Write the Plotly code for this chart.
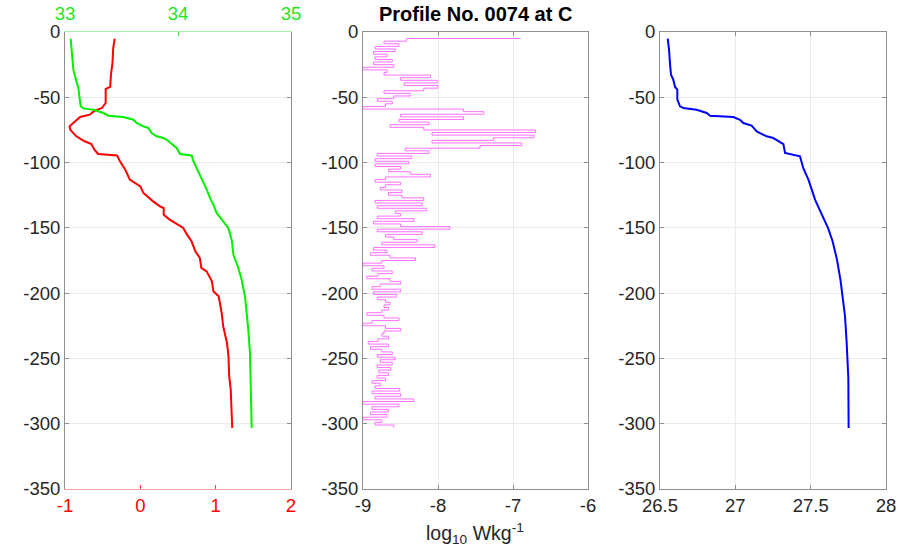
import plotly.graph_objects as go

# ---------------- data ----------------
# Temperature (bottom red axis), depth in m (positive down)
temp_depth = [5.1, 12.3, 23.8, 32.7, 42.0, 43.5, 54.4, 58.2, 60.8, 63.3, 65.1, 68.4, 72.2, 74.8,
              79.9, 83.7, 85.8, 90.1, 93.4, 94.5, 99.0, 105.4, 108.0, 113.1, 118.2, 123.3, 129.7,
              133.5, 134.8, 139.9, 143.7, 150.1, 155.2, 160.3, 168.0, 173.1, 180.7, 183.3, 190.9,
              198.6, 202.4, 215.2, 225.4, 238.2, 248.4, 263.7, 273.9, 289.2, 303.2]
temp = [-0.34, -0.36, -0.37, -0.39, -0.40, -0.46, -0.46, -0.51, -0.62, -0.67, -0.80, -0.87, -0.94, -0.93,
        -0.85, -0.74, -0.65, -0.61, -0.56, -0.31, -0.27, -0.20, -0.18, -0.14, -0.00, 0.04, 0.17,
        0.26, 0.31, 0.31, 0.39, 0.57, 0.62, 0.68, 0.73, 0.79, 0.81, 0.88, 0.95,
        0.97, 1.04, 1.08, 1.10, 1.15, 1.17, 1.18, 1.20, 1.21, 1.22]

# Salinity (top green axis)
sal_depth = [5.1, 16.1, 28.9, 36.5, 42.9, 49.3, 56.9, 58.5, 59.5, 62.0, 64.1, 65.1, 67.2, 69.7,
             72.3, 73.5, 77.4, 79.9, 81.2, 82.5, 85.8, 88.8, 93.4, 94.5, 99.0, 104.2, 110.5, 115.6,
             120.7, 128.4, 132.2, 138.6, 145.0, 150.1, 159.0, 170.5, 180.7, 189.7, 202.4, 215.2,
             228.0, 245.8, 266.2, 303.2]
sal = [33.050, 33.059, 33.074, 33.097, 33.118, 33.127, 33.139, 33.162, 33.251, 33.339, 33.383,
       33.516, 33.605, 33.634, 33.693, 33.737, 33.767, 33.811, 33.870, 33.900, 33.944, 33.988,
       34.018, 34.121, 34.136, 34.165, 34.195, 34.224, 34.254, 34.290, 34.313, 34.342, 34.401,
       34.445, 34.475, 34.490, 34.534, 34.563, 34.593, 34.608, 34.622, 34.637, 34.643, 34.652]

# Dissipation rate, log10 W/kg
eps_depth = [5, 7, 9, 11, 13, 15, 17, 19, 21, 23,
             25, 27, 29, 31, 33, 35, 37, 39, 41, 43,
             45, 47, 49, 51, 53, 55, 57, 59, 61, 63,
             65, 67, 69, 71, 73, 75, 77, 79, 81, 83,
             85, 87, 89, 91, 93, 95, 97, 99, 101, 103,
             105, 107, 109, 111, 113, 115, 117, 119, 121, 123,
             125, 127, 129, 131, 133, 135, 137, 139, 141, 143,
             145, 147, 149, 151, 153, 155, 157, 159, 161, 163,
             165, 167, 169, 171, 173, 175, 177, 179, 181, 183,
             185, 187, 189, 191, 193, 195, 197, 199, 201, 203,
             205, 207, 209, 211, 213, 215, 217, 219, 221, 223,
             225, 227, 229, 231, 233, 235, 237, 239, 241, 243,
             245, 247, 249, 251, 253, 255, 257, 259, 261, 263,
             265, 267, 269, 271, 273, 275, 277, 279, 281, 283,
             285, 287, 289, 291, 293, 295, 297, 299, 301, 303]
eps = [-6.90, -8.42, -8.72, -8.52, -8.84, -8.57, -8.86, -8.68, -8.84, -8.61,
       -8.86, -8.59, -9.00, -8.68, -8.72, -8.10, -8.50, -8.01, -8.45, -8.00,
       -8.19, -8.72, -8.37, -8.59, -8.81, -8.61, -8.70, -9.00, -7.66, -7.39,
       -8.50, -7.66, -8.52, -8.12, -8.64, -8.19, -6.70, -8.08, -6.72, -7.26,
       -8.08, -6.88, -7.44, -8.44, -8.12, -8.81, -8.35, -8.84, -8.39, -8.84,
       -8.50, -8.66, -8.37, -8.10, -8.70, -8.84, -8.50, -8.70, -8.77, -8.48,
       -8.66, -8.48, -8.19, -8.84, -8.21, -8.81, -8.15, -8.57, -8.50, -8.81,
       -8.32, -8.86, -8.50, -7.84, -8.81, -8.21, -8.70, -8.59, -8.28, -8.75,
       -8.04, -8.86, -8.68, -8.90, -8.64, -8.30, -8.75, -9.00, -8.72, -8.88,
       -8.61, -8.80, -8.95, -8.64, -8.50, -8.77, -8.88, -8.50, -8.86, -8.55,
       -8.81, -8.70, -8.64, -8.72, -8.66, -8.75, -8.95, -8.72, -8.52, -8.88,
       -9.00, -8.70, -8.50, -8.72, -8.75, -8.66, -8.80, -8.93, -8.66, -8.90,
       -8.75, -8.61, -8.81, -8.57, -8.77, -8.61, -8.81, -8.63, -8.79, -8.66,
       -8.81, -8.70, -8.88, -8.77, -8.84, -8.51, -8.88, -8.50, -8.84, -8.32,
       -9.00, -8.52, -8.88, -8.66, -8.90, -8.68, -9.00, -8.75, -8.84, -8.59]

# Potential density anomaly
rho_depth = [5.1, 13.5, 23.8, 32.7, 36.5, 42.1, 44.2, 51.8, 56.9, 58.2, 59.5, 62.0, 64.1, 65.1,
             67.2, 69.7, 71.7, 76.1, 77.4, 79.9, 81.2, 83.7, 85.8, 92.7, 94.5, 95.2, 104.2, 109.3,
             113.1, 118.2, 128.4, 140.0, 150.0, 160.0, 174.0, 190.0, 205.0, 217.7, 238.2, 250.9,
             265.0, 303.2]
rho = [26.551, 26.560, 26.566, 26.573, 26.588, 26.600, 26.615, 26.615, 26.633, 26.655, 26.743,
       26.810, 26.832, 26.987, 27.031, 27.053, 27.108, 27.142, 27.164, 27.208, 27.252, 27.285,
       27.319, 27.330, 27.418, 27.429, 27.451, 27.473, 27.485, 27.500, 27.529, 27.575, 27.615,
       27.645, 27.674, 27.698, 27.712, 27.728, 27.739, 27.743, 27.750, 27.752]

depth_ticks = [0, -50, -100, -150, -200, -250, -300, -350]
depth_labels = ["0", "-50", "-100", "-150", "-200", "-250", "-300", "-350"]
temp_ticks = [-1, 0, 1, 2]
temp_labels = ["-1", "0", "1", "2"]
sal_ticks = [33, 34, 35]
eps_ticks = [-9, -8, -7, -6]
eps_labels = ["-9", "-8", "-7", "-6"]
rho_ticks = [26.5, 27, 27.5, 28]
rho_labels = ["26.5", "27", "27.5", "28"]
title_text = "<b>Profile No. 0074 at C</b>"
eps_label = "log<sub>10</sub> Wkg<sup>-1</sup>"

# ---------------- figure ----------------
W, H = 903, 554
FONT = "Liberation Sans, Arial, Helvetica, sans-serif"
GRAY = "#8f8f8f"
GRID = "#ebebeb"
TXT = "#262626"
TICK = 18.5


def px_x(x):
    return x / W


def px_y(y):
    return (H - y) / H


def neg(v):
    return [-d for d in v]


fig = go.Figure()
fig.add_trace(go.Scatter(x=temp, y=neg(temp_depth), xaxis="x", yaxis="y", mode="lines",
                         line=dict(color="#ff0000", width=2)))
fig.add_trace(go.Scatter(x=sal, y=neg(sal_depth), xaxis="x4", yaxis="y", mode="lines",
                         line=dict(color="#00f000", width=2)))
fig.add_trace(go.Scatter(x=eps, y=neg(eps_depth), xaxis="x2", yaxis="y2", mode="lines",
                         line=dict(color="#ff70ff", width=1, shape="hv")))
fig.add_trace(go.Scatter(x=rho, y=neg(rho_depth), xaxis="x3", yaxis="y3", mode="lines",
                         line=dict(color="#0000ff", width=2)))

ydom = [px_y(489), px_y(32)]
doms = [[px_x(65), px_x(291)], [px_x(363), px_x(588)], [px_x(660), px_x(886)]]


def yaxis(i):
    return dict(domain=ydom, range=[-350, 0], tickvals=depth_ticks, ticktext=depth_labels,
                ticks="inside", ticklen=4, tickcolor=GRAY, showline=True, linecolor=GRAY,
                linewidth=1, mirror="ticks", showgrid=True, gridcolor=GRID, zeroline=False,
                automargin=False, tickfont=dict(family=FONT, size=TICK, color=TXT),
                anchor=f"x{i}" if i > 1 else "x")


def xaxis(dom, rng, ticks, labels, grid, anchor):
    return dict(domain=dom, range=rng, tickvals=ticks, ticktext=labels, ticks="inside",
                ticklen=4, tickcolor=GRAY, showline=True, linecolor=GRAY, linewidth=1,
                mirror="ticks", showgrid=grid, gridcolor=GRID, zeroline=False, automargin=False,
                tickfont=dict(family=FONT, size=TICK, color=TXT), anchor=anchor)


fig.update_layout(
    width=W, height=H, margin=dict(l=0, r=0, t=0, b=0, autoexpand=False),
    paper_bgcolor="white", plot_bgcolor="white", showlegend=False,
    font=dict(family=FONT, color=TXT),
    yaxis=yaxis(1), yaxis2=yaxis(2), yaxis3=yaxis(3),
    xaxis=dict(domain=doms[0], range=[-1, 2], tickvals=temp_ticks, ticktext=temp_labels,
               ticks="inside", ticklen=4, tickcolor="#ff4040", showline=True,
               linecolor="#f7a6a6", linewidth=1, showgrid=False, zeroline=False, automargin=False,
               tickfont=dict(family=FONT, size=TICK, color="#ff0000"), anchor="y"),
    xaxis4=dict(overlaying="x", side="top", range=[33, 35], tickvals=sal_ticks, ticks="inside",
                ticklen=4, tickcolor="#33dd33", showline=True, linecolor="#a6f2a6", linewidth=1,
                showgrid=False, zeroline=False, automargin=False, ticklabelstandoff=4,
                tickfont=dict(family=FONT, size=TICK, color="#22e622"), anchor="y"),
    xaxis2=xaxis(doms[1], [-9, -6], eps_ticks, eps_labels, True, "y2"),
    xaxis3=xaxis(doms[2], [26.5, 28], rho_ticks, rho_labels, True, "y3"),
)

fig.add_annotation(text=title_text, xref="paper", yref="paper", x=px_x((363 + 588) / 2),
                   y=px_y(14), showarrow=False, xanchor="center", yanchor="middle",
                   borderpad=0, font=dict(family=FONT, size=20, color="#000000"))
fig.add_annotation(text=eps_label, xref="paper", yref="paper", x=px_x((363 + 588) / 2),
                   y=px_y(533), showarrow=False, xanchor="center", yanchor="middle",
                   borderpad=0, font=dict(family=FONT, size=19.5, color=TXT))

fig.write_html("out.html", config={"displayModeBar": False},
               post_script="document.body.style.margin='0';document.body.style.padding='0';")
